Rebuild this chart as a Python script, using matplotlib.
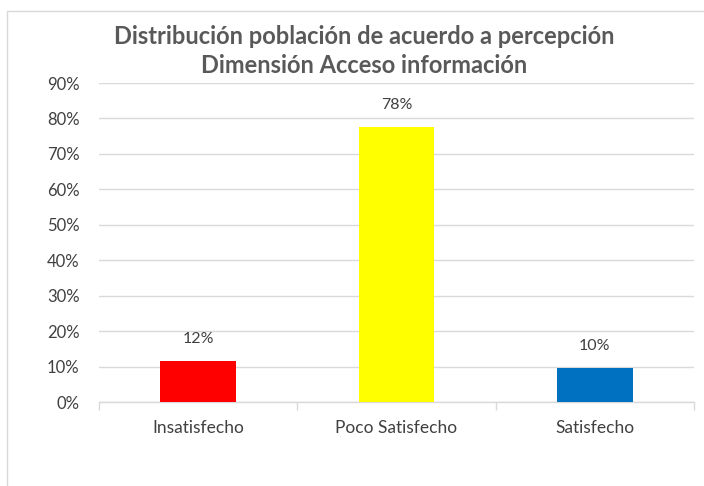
import matplotlib.pyplot as plt
from matplotlib.patches import Rectangle
from matplotlib.ticker import PercentFormatter, FixedLocator

# Data
categorias = ["Insatisfecho", "Poco Satisfecho", "Satisfecho"]
porcentajes = [0.115, 0.775, 0.095]
etiquetas = ["12%", "78%", "10%"]
colores = ["#ff0000", "#ffff00", "#0070c0"]
titulo = "Distribución población de acuerdo a percepción\nDimensión Acceso información"

plt.rcParams["font.family"] = ["Lato", "DejaVu Sans"]

fig = plt.figure(figsize=(7.04, 4.86), dpi=100)

# outer chart border (only left and top visible in the reference)
fig.patches.append(Rectangle((7 / 704, -0.05), 1.2, (486 - 11) / 486 + 0.05,
                             transform=fig.transFigure, fill=False,
                             edgecolor="#d9d9d9", linewidth=1.0))

ax = fig.add_axes([99 / 704, 84 / 486, 595 / 704, 319 / 486])

x = range(len(categorias))
ax.bar(x, porcentajes, width=0.38, color=colores, zorder=3)

for xi, v, lab in zip(x, porcentajes, etiquetas):
    ax.annotate(lab, (xi, v), xytext=(0, 16), textcoords="offset points",
                ha="center", va="center", fontsize=11.5, color="#404040")

ax.set_xlim(-0.5, len(categorias) - 0.5)
ax.set_ylim(0, 0.9)
ax.set_yticks([i / 10 for i in range(10)])
ax.yaxis.set_major_formatter(PercentFormatter(1.0, decimals=0))
ax.grid(axis="y", color="#d9d9d9", linewidth=1.0, zorder=0)

ax.set_xticks(list(x))
ax.set_xticklabels(categorias)
ax.xaxis.set_minor_locator(FixedLocator([i - 0.5 for i in range(len(categorias) + 1)]))
ax.tick_params(axis="x", which="major", length=0, pad=13, labelsize=12.5, labelcolor="#404040")
ax.tick_params(axis="x", which="minor", length=6, color="#d9d9d9", width=1.0)
ax.tick_params(axis="y", length=0, pad=14, labelsize=12, labelcolor="#404040")

for side in ["left", "right", "top"]:
    ax.spines[side].set_visible(False)
ax.spines["bottom"].set_color("#d9d9d9")
ax.spines["bottom"].set_linewidth(1.0)

fig.text(364 / 704, 1 - 51 / 486, titulo, ha="center", va="center",
         fontsize=17, fontweight="bold", color="#595959", linespacing=1.35)

fig.savefig("out.png", dpi=100, facecolor="white")
